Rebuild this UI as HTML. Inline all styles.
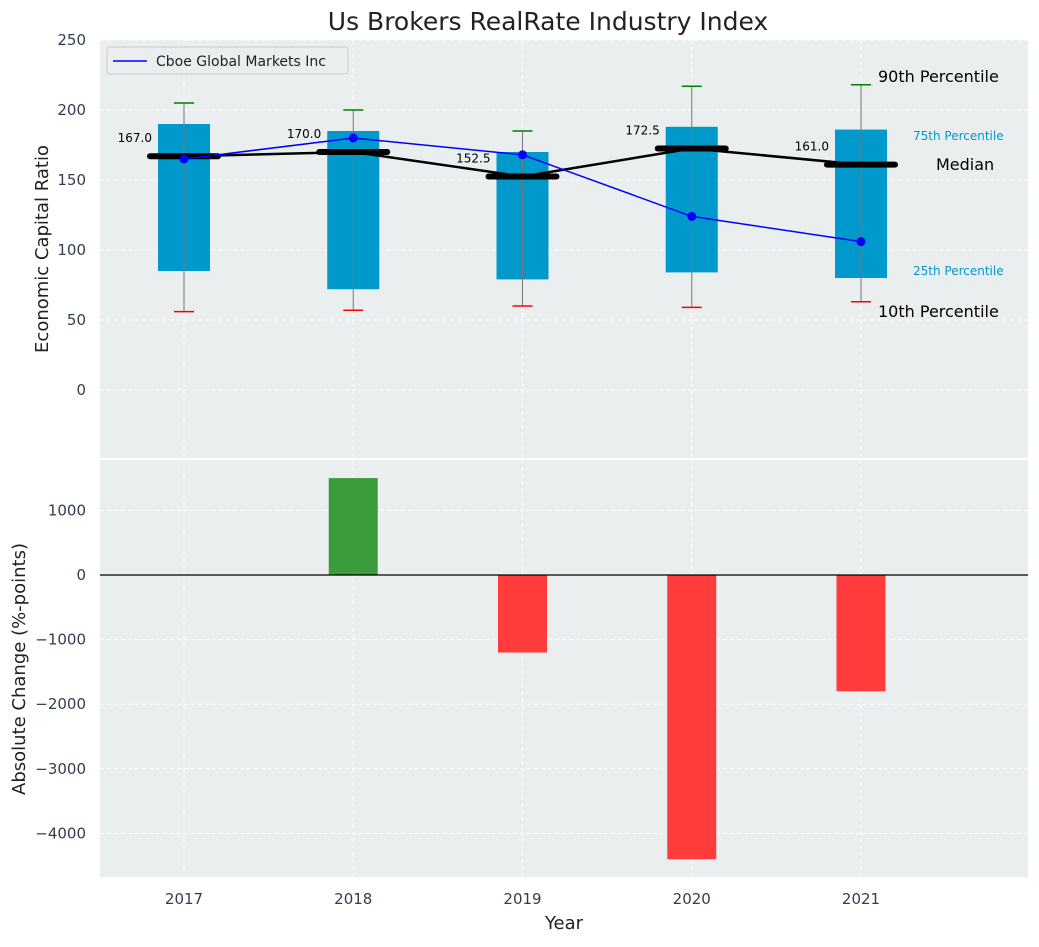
<!DOCTYPE html>
<html><head><meta charset="utf-8"><style>
body{margin:0;background:#fff;font-family:"Liberation Sans","DejaVu Sans",sans-serif}
</style></head><body>
<svg id="c" width="1039" height="942" xmlns="http://www.w3.org/2000/svg" font-family="DejaVu Sans, Liberation Sans, sans-serif"></svg>
<script>
const years=['2017','2018','2019','2020','2021'];
const q1=[85,72,79,84,80];
const q3=[190,185,170,188,186];
const p10=[56,57,60,59,63];
const p90=[205,200,185,217,218];
const medians=[167,170,152.5,172.5,161];
const company=[165,180,168,124,106];
const changes=[0,1500,-1200,-4400,-1800];
const topTicks=[0,50,100,150,200,250];
const botTicks=[-4000,-3000,-2000,-1000,0,1000];

const S=document.getElementById('c');const NS='http://www.w3.org/2000/svg';
function el(t,a,txt,p){const e=document.createElementNS(NS,t);for(const k in a)e.setAttribute(k,a[k]);if(txt!==undefined)e.textContent=txt;(p||S).appendChild(e);return e;}
const L=100,R=1028;
const x=i=>184+i*169.25;
const yT=v=>390-1.4*v;
const yB=v=>575-0.0646*v;
let t=el('text',{x:548,y:30,'text-anchor':'middle','font-size':25,fill:'#222'},'Us Brokers RealRate Industry Index');

let p=el('rect',{x:L,y:40,width:R-L,height:418,fill:'#eaeeee'});

p=el('rect',{x:L,y:460,width:R-L,height:417,fill:'#eaeeee'});

topTicks.forEach(v=>{el('line',{x1:L,x2:R,y1:yT(v),y2:yT(v),stroke:'#fff','stroke-dasharray':'4,3'});
 const tt=el('text',{x:86,y:yT(v)+5,'text-anchor':'end','font-size':15,fill:'#333d4f'},v);
 });
botTicks.forEach(v=>{el('line',{x1:L,x2:R,y1:yB(v),y2:yB(v),stroke:'#fff','stroke-dasharray':'4,3'});
 const tt=el('text',{x:86,y:yB(v)+5,'text-anchor':'end','font-size':15,fill:'#333d4f'},v<0?'\u2212'+(-v):v);
 });
years.forEach((yr,i)=>{el('line',{x1:x(i),x2:x(i),y1:40,y2:458,stroke:'#fff','stroke-dasharray':'4,3'});
 el('line',{x1:x(i),x2:x(i),y1:460,y2:877,stroke:'#fff','stroke-dasharray':'4,3'});
 const tt=el('text',{x:x(i),y:904,'text-anchor':'middle','font-size':15,fill:'#333d4f'},yr);
 });
years.forEach((yr,i)=>{
 const b=el('rect',{x:x(i)-26,y:yT(q3[i]),width:52,height:yT(q1[i])-yT(q3[i]),fill:'#0099cc'});
 
 el('line',{x1:x(i),x2:x(i),y1:yT(p90[i]),y2:yT(p10[i]),stroke:'#777','stroke-width':1});
 el('line',{x1:x(i)-10,x2:x(i)+10,y1:yT(p90[i]),y2:yT(p90[i]),stroke:'green','stroke-width':1.5});
 el('line',{x1:x(i)-10,x2:x(i)+10,y1:yT(p10[i]),y2:yT(p10[i]),stroke:'red','stroke-width':1.5});
});
el('polyline',{points:medians.map((m,i)=>x(i)+','+yT(m)).join(' '),fill:'none',stroke:'#000','stroke-width':2.5});
medians.forEach((m,i)=>{
 const ml=el('line',{x1:x(i)-34,x2:x(i)+34,y1:yT(m),y2:yT(m),stroke:'#000','stroke-width':6,'stroke-linecap':'round'});
 
 const lb=el('text',{x:x(i)-32,y:yT(m)-14,'text-anchor':'end','font-size':12,fill:'#000'},m.toFixed(1));
 
});
el('polyline',{points:company.map((v,i)=>x(i)+','+yT(v)).join(' '),fill:'none',stroke:'blue','stroke-width':1.5});
company.forEach((v,i)=>{const c=el('circle',{cx:x(i),cy:yT(v),r:4.5,fill:'blue'});
 });
[['90th Percentile',878,82,16,'#000'],['75th Percentile',913,140,12,'#0099cc'],['Median',936,170,16,'#000'],['25th Percentile',913,275,12,'#0099cc'],['10th Percentile',878,317,16,'#000']].forEach(a=>{
 const tt=el('text',{x:a[1],y:a[2],'font-size':a[3],fill:a[4]},a[0]);});
const lg=el('g',{});
el('rect',{x:107,y:47,width:241,height:27,rx:3,fill:'#eaeeee',stroke:'#ccc'},undefined,lg);
el('line',{x1:113,x2:147,y1:61,y2:61,stroke:'blue','stroke-width':1.5},undefined,lg);
el('text',{x:156,y:66,'font-size':14,fill:'#222'},'Cboe Global Markets Inc',lg);
changes.forEach((v,i)=>{if(!v)return;const b=el('rect',{x:x(i)-24.5,y:Math.min(yB(v),yB(0)),width:49,height:Math.abs(yB(v)-yB(0)),fill:v>0?'#3a9c3a':'#ff3b3b'});
 });
el('line',{x1:L,x2:R,y1:yB(0),y2:yB(0),stroke:'#000','stroke-width':1.2});
t=el('text',{x:48,y:249,'text-anchor':'middle','font-size':18,fill:'#222',transform:'rotate(-90 48 249)'},'Economic Capital Ratio');

t=el('text',{x:25,y:669,'text-anchor':'middle','font-size':18,fill:'#222',transform:'rotate(-90 25 669)'},'Absolute Change (%-points)');

t=el('text',{x:564,y:929,'text-anchor':'middle','font-size':18,fill:'#222'},'Year');

</script>
</body></html>
